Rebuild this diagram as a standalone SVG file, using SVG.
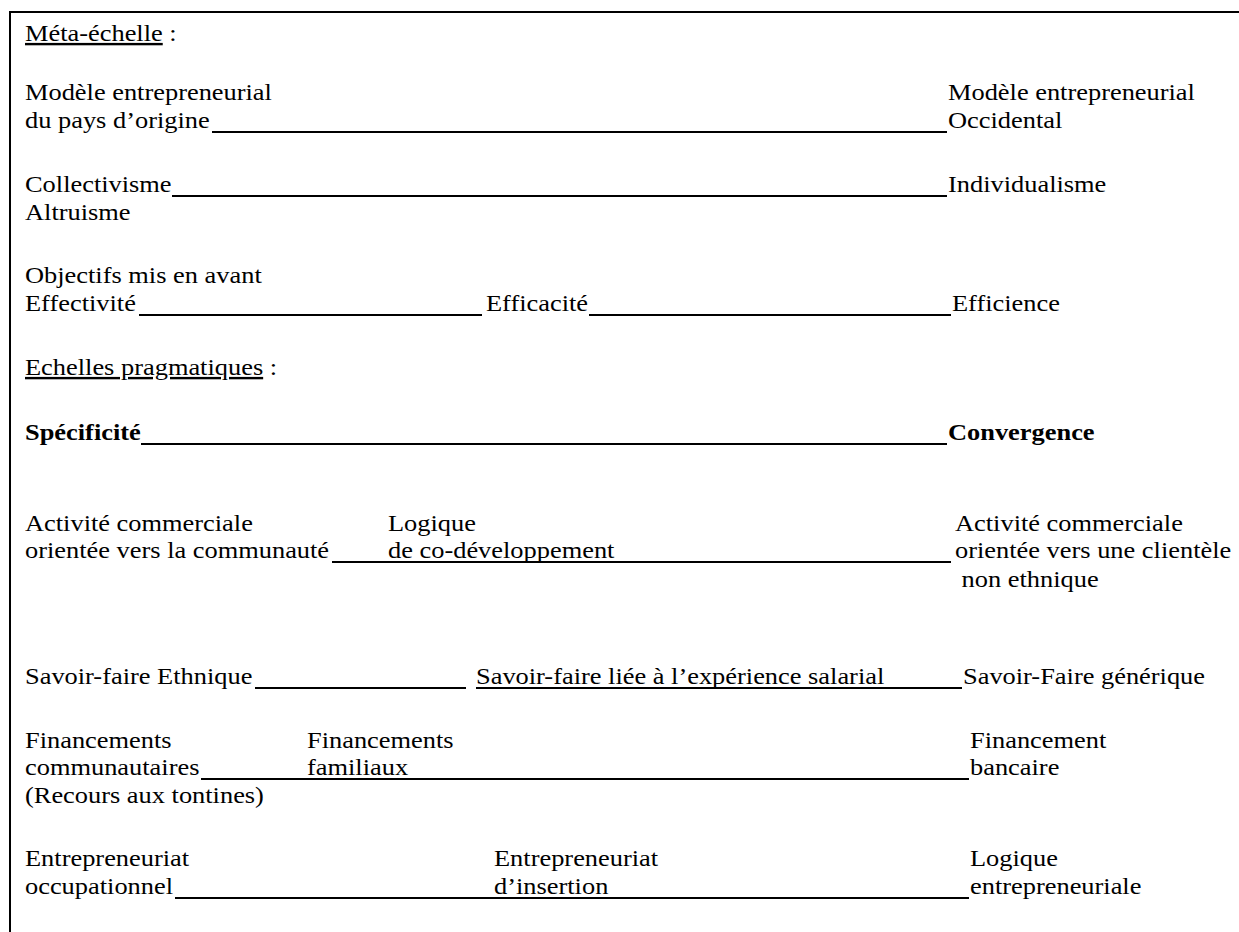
<svg xmlns="http://www.w3.org/2000/svg" width="1239" height="932" viewBox="0 0 1239 932">
<style>
text{font-family:"Liberation Serif","Times New Roman",serif;font-size:24px;fill:#000}
.b{font-weight:bold}
.u{text-decoration:underline}
.ln{stroke:#000;stroke-width:2;fill:none}
.fr{stroke:#000;stroke-width:2;fill:none}
</style>
<rect width="1239" height="932" fill="#fff"/>
<g id="frame"><path class="fr" d="M10 932 V12 H1239"/></g>
<g id="connectors">
<line class="ln" x1="212" y1="132" x2="947" y2="132"/>
<line class="ln" x1="172" y1="196" x2="947" y2="196"/>
<line class="ln" x1="139" y1="315" x2="482" y2="315"/>
<line class="ln" x1="589" y1="315" x2="951" y2="315"/>
<line class="ln" x1="141" y1="444" x2="947" y2="444"/>
<line class="ln" x1="332" y1="562" x2="951" y2="562"/>
<line class="ln" x1="255" y1="688" x2="466" y2="688"/>
<line class="ln" x1="476" y1="688" x2="962" y2="688"/>
<line class="ln" x1="201" y1="779" x2="969" y2="779"/>
<line class="ln" x1="175" y1="898" x2="969" y2="898"/>
</g>
<g id="meta-title"><text transform="matrix(1.1 0 0 1 25 41)"><tspan class="u">Méta-échelle</tspan> :</text></g>
<g id="modele-origine"><text transform="matrix(1.1 0 0 1 25 100)">Modèle entrepreneurial</text><text transform="matrix(1.1 0 0 1 25 128)">du pays d’origine</text></g>
<g id="modele-occidental"><text transform="matrix(1.1 0 0 1 948 100)">Modèle entrepreneurial</text><text transform="matrix(1.1 0 0 1 948 128)">Occidental</text></g>
<g id="collectivisme"><text transform="matrix(1.1 0 0 1 25 192)">Collectivisme</text><text transform="matrix(1.1 0 0 1 25 220)">Altruisme</text></g>
<g id="individualisme"><text transform="matrix(1.1 0 0 1 948 192)">Individualisme</text></g>
<g id="effectivite"><text transform="matrix(1.1 0 0 1 25 283)">Objectifs mis en avant</text><text transform="matrix(1.1 0 0 1 25 311)">Effectivité</text></g>
<g id="efficacite"><text transform="matrix(1.1 0 0 1 486 311)">Efficacité</text></g>
<g id="efficience"><text transform="matrix(1.1 0 0 1 952 311)">Efficience</text></g>
<g id="pragmatic-title"><text transform="matrix(1.1 0 0 1 25 375)"><tspan class="u">Echelles pragmatiques</tspan> :</text></g>
<g id="specificite"><text class="b" transform="matrix(1.1 0 0 1 25 440)">Spécificité</text></g>
<g id="convergence"><text class="b" transform="matrix(1.1 0 0 1 948 440)">Convergence</text></g>
<g id="activite-communaute"><text transform="matrix(1.1 0 0 1 25 531)">Activité commerciale</text><text transform="matrix(1.1 0 0 1 25 558)">orientée vers la communauté</text></g>
<g id="co-developpement"><text transform="matrix(1.1 0 0 1 388 531)">Logique</text><text transform="matrix(1.1 0 0 1 388 558)">de co-développement</text></g>
<g id="activite-non-ethnique"><text transform="matrix(1.1 0 0 1 955 531)">Activité commerciale</text><text transform="matrix(1.1 0 0 1 955 558)">orientée vers une clientèle</text><text transform="matrix(1.1 0 0 1 955 587)" xml:space="preserve"> non ethnique</text></g>
<g id="savoir-ethnique"><text transform="matrix(1.1 0 0 1 25 684)">Savoir-faire Ethnique</text></g>
<g id="savoir-salarial"><text transform="matrix(1.1 0 0 1 476 684)">Savoir-faire liée à l’expérience salarial</text></g>
<g id="savoir-generique"><text transform="matrix(1.1 0 0 1 963 684)">Savoir-Faire générique</text></g>
<g id="fin-communautaires"><text transform="matrix(1.1 0 0 1 25 748)">Financements</text><text transform="matrix(1.1 0 0 1 25 775)">communautaires</text><text transform="matrix(1.1 0 0 1 25 803)">(Recours aux tontines)</text></g>
<g id="fin-familiaux"><text transform="matrix(1.1 0 0 1 307 748)">Financements</text><text transform="matrix(1.1 0 0 1 307 775)">familiaux</text></g>
<g id="fin-bancaire"><text transform="matrix(1.1 0 0 1 970 748)">Financement</text><text transform="matrix(1.1 0 0 1 970 775)">bancaire</text></g>
<g id="ent-occupationnel"><text transform="matrix(1.1 0 0 1 25 866)">Entrepreneuriat</text><text transform="matrix(1.1 0 0 1 25 894)">occupationnel</text></g>
<g id="ent-insertion"><text transform="matrix(1.1 0 0 1 494 866)">Entrepreneuriat</text><text transform="matrix(1.1 0 0 1 494 894)">d’insertion</text></g>
<g id="logique-ent"><text transform="matrix(1.1 0 0 1 970 866)">Logique</text><text transform="matrix(1.1 0 0 1 970 894)">entrepreneuriale</text></g>
</svg>
